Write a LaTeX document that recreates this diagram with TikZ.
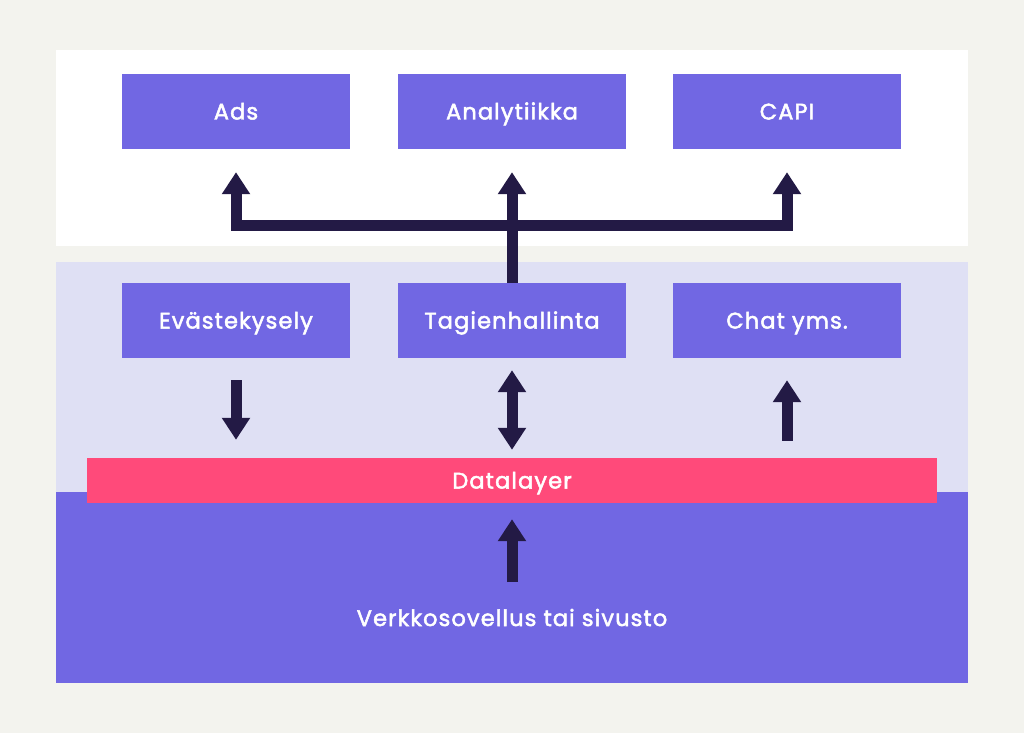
\documentclass[tikz,border=0pt]{standalone}
\usepackage{fontspec}
\setmainfont{Poppins}
\newfontfamily\merkki{Poppins}[FakeBold=2.2, LetterSpace=5]
\usetikzlibrary{arrows.meta}
\definecolor{taus}{HTML}{F3F3EE}
\definecolor{laventeli}{HTML}{DFE0F4}
\definecolor{violetti}{HTML}{7167E3}
\definecolor{puna}{HTML}{FF4A7A}
\definecolor{tumma}{HTML}{231A45}
\begin{document}
\begin{tikzpicture}[x=1pt, y=-1pt]
\tikzset{laatikko/.style={fill=violetti, text=white, minimum width=228pt, minimum height=75pt, inner sep=0pt, text height=17pt, text depth=1pt, font=\merkki\fontsize{22.5}{26}\selectfont}}
\tikzset{nuoli/.style={draw=tumma, line width=11pt, line join=miter, -{Triangle[width=27pt, length=22pt]}}}
\tikzset{tupla/.style={draw=tumma, line width=11pt, {Triangle[width=27pt, length=22pt]}-{Triangle[width=27pt, length=22pt]}}}
\useasboundingbox (0,0) rectangle (1024,733);
\fill[taus] (0,0) rectangle (1024,733);
\fill[white] (56,50) rectangle (968,246);
\fill[laventeli] (56,262) rectangle (968,492);
\fill[violetti] (56,492) rectangle (968,683);
\node[laatikko] (ads) at (236,111.5) {Ads};
\node[laatikko] (ana) at (512,111.5) {Analytiikka};
\node[laatikko] (capi) at (787,111.5) {CAPI};
\node[laatikko] (eva) at (236,320.5) {Evästekysely};
\node[laatikko] (tag) at (512,320.5) {Tagienhallinta};
\node[laatikko] (chat) at (787,320.5) {Chat yms.};
\node[laatikko, fill=puna, minimum width=850pt, minimum height=45pt] (dl) at (512,480.5) {Datalayer};
\node[laatikko, fill=none] (sivu) at (512,618) {Verkkosovellus tai sivusto};
\coordinate (haara) at (512,225.5);
\coordinate (pohja) at (512,582);
\draw[nuoli, shorten >=23pt] (tag.north) -- (ana.south);
\draw[nuoli, shorten >=23pt] (haara) -| (ads.south);
\draw[nuoli, shorten >=23pt] (haara) -| (capi.south);
\draw[nuoli, shorten <=22pt, shorten >=18pt] (eva.south) -- (eva.south |- dl.north);
\draw[tupla, shorten <=12pt, shorten >=8pt] (tag.south) -- (dl.north);
\draw[nuoli, shorten <=17pt, shorten >=22pt] (chat.south |- dl.north) -- (chat.south);
\draw[nuoli, shorten >=16pt] (pohja) -- (dl.south);
\end{tikzpicture}
\end{document}
